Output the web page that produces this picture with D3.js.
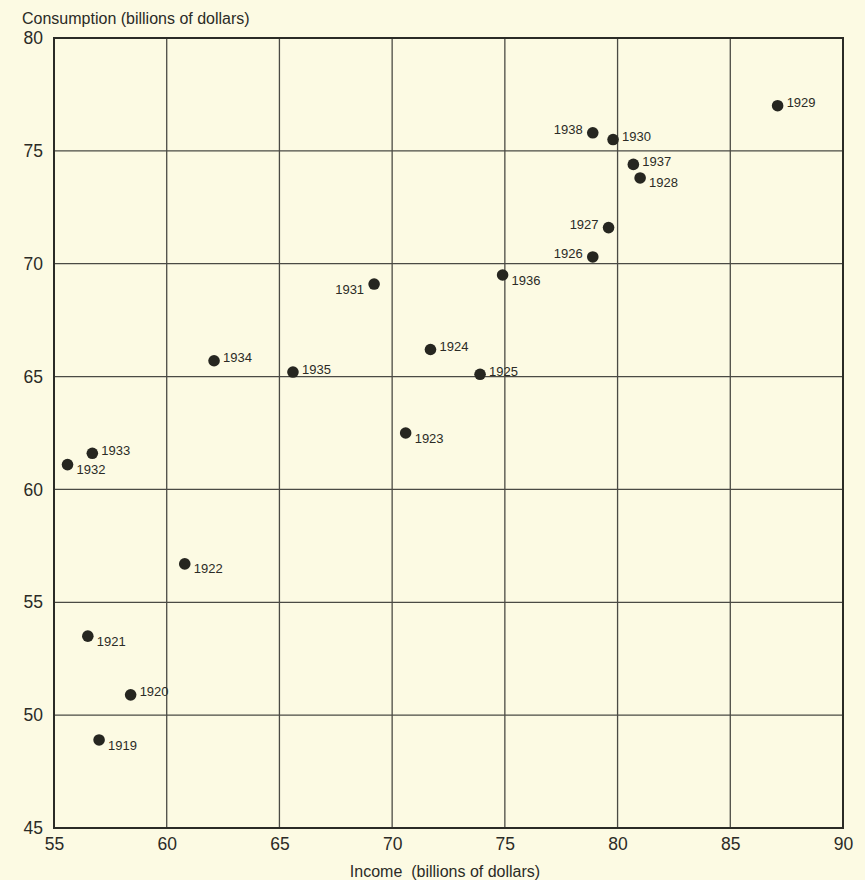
<!DOCTYPE html>
<html>
<head>
<meta charset="utf-8">
<script src="https://cdn.jsdelivr.net/npm/d3@7"></script>
<style>
  html, body { margin: 0; padding: 0; background: #fcfae3; }
  svg { display: block; }
</style>
</head>
<body>
<svg id="chart" width="865" height="880"></svg>
<script>
// ---- data ----
const years = [1919, 1920, 1921, 1922, 1923, 1924, 1925, 1926, 1927, 1928,
               1929, 1930, 1931, 1932, 1933, 1934, 1935, 1936, 1937, 1938];
const income = [57.0, 58.4, 56.5, 60.8, 70.6, 71.7, 73.9, 78.9, 79.6, 81.0,
                87.1, 79.8, 69.2, 55.6, 56.7, 62.1, 65.6, 74.9, 80.7, 78.9];
const consumption = [48.9, 50.9, 53.5, 56.7, 62.5, 66.2, 65.1, 70.3, 71.6, 73.8,
                     77.0, 75.5, 69.1, 61.1, 61.6, 65.7, 65.2, 69.5, 74.4, 75.8];
const xTicks = [55, 60, 65, 70, 75, 80, 85, 90];
const yTicks = [45, 50, 55, 60, 65, 70, 75, 80];
const xTitle = "Income  (billions of dollars)";
const yTitle = "Consumption (billions of dollars)";

// label placement (style only)
const place = {
  1919: "se", 1920: "ne", 1921: "se", 1922: "se", 1923: "se", 1924: "ne",
  1925: "ne", 1926: "w", 1927: "w", 1928: "se", 1929: "ne", 1930: "ne",
  1931: "sw", 1932: "se", 1933: "ne", 1934: "ne", 1935: "ne", 1936: "se",
  1937: "ne", 1938: "w"
};

const data = years.map((yr, i) => ({ year: yr, x: income[i], y: consumption[i] }));

const svg = d3.select("#chart");
const mLeft = 54, mRight = 843, mTop = 38, mBottom = 828;

const x = d3.scaleLinear().domain([55, 90]).range([mLeft, mRight]);
const y = d3.scaleLinear().domain([45, 80]).range([mBottom, mTop]);

const ink = "#2b2b26";
const font = "'Liberation Sans', Arial, sans-serif";

// grid
const g = svg.append("g");
g.selectAll("line.vx").data(xTicks.slice(1, -1)).enter().append("line")
  .attr("x1", d => x(d)).attr("x2", d => x(d))
  .attr("y1", mTop).attr("y2", mBottom)
  .attr("stroke", "#4a4a44").attr("stroke-width", 1.3);
g.selectAll("line.hy").data(yTicks.slice(1, -1)).enter().append("line")
  .attr("y1", d => y(d)).attr("y2", d => y(d))
  .attr("x1", mLeft).attr("x2", mRight)
  .attr("stroke", "#4a4a44").attr("stroke-width", 1.3);

// frame
g.append("rect").attr("x", mLeft).attr("y", mTop)
  .attr("width", mRight - mLeft).attr("height", mBottom - mTop)
  .attr("fill", "none").attr("stroke", ink).attr("stroke-width", 2);

// axes (tick labels via d3 axes)
const xAxis = svg.append("g").attr("transform", `translate(0,${mBottom})`)
  .call(d3.axisBottom(x).tickValues(xTicks).tickSize(0).tickPadding(10));
const yAxis = svg.append("g").attr("transform", `translate(${mLeft},0)`)
  .call(d3.axisLeft(y).tickValues(yTicks).tickSize(0).tickPadding(11));
[xAxis, yAxis].forEach(a => {
  a.select(".domain").remove();
  a.selectAll("text").attr("font-family", font).attr("font-size", 17.5)
    .attr("fill", ink);
});

// titles
svg.append("text").attr("x", 22).attr("y", 24)
  .attr("font-family", font).attr("font-size", 16).attr("fill", ink)
  .style("white-space", "pre")
  .text(yTitle);
svg.append("text").attr("x", 445).attr("y", 877).attr("text-anchor", "middle")
  .attr("font-family", font).attr("font-size", 16).attr("fill", ink)
  .style("white-space", "pre")
  .text(xTitle);

// points
svg.append("g").selectAll("circle").data(data).enter().append("circle")
  .attr("cx", d => x(d.x)).attr("cy", d => y(d.y)).attr("r", 5.8)
  .attr("fill", "#262620");

// labels
const off = {
  ne: { dx: 9, dy: -3, anchor: "start" },
  se: { dx: 9, dy: 5, anchor: "start" },
  w:  { dx: -10, dy: -3, anchor: "end" },
  sw: { dx: -10, dy: 5, anchor: "end" }
};
svg.append("g").selectAll("text").data(data).enter().append("text")
  .attr("x", d => x(d.x) + off[place[d.year]].dx)
  .attr("y", d => y(d.y) + off[place[d.year]].dy)
  .attr("dy", "0.35em")
  .attr("text-anchor", d => off[place[d.year]].anchor)
  .attr("font-family", font).attr("font-size", 13).attr("fill", ink)
  .text(d => d.year);
</script>
</body>
</html>
